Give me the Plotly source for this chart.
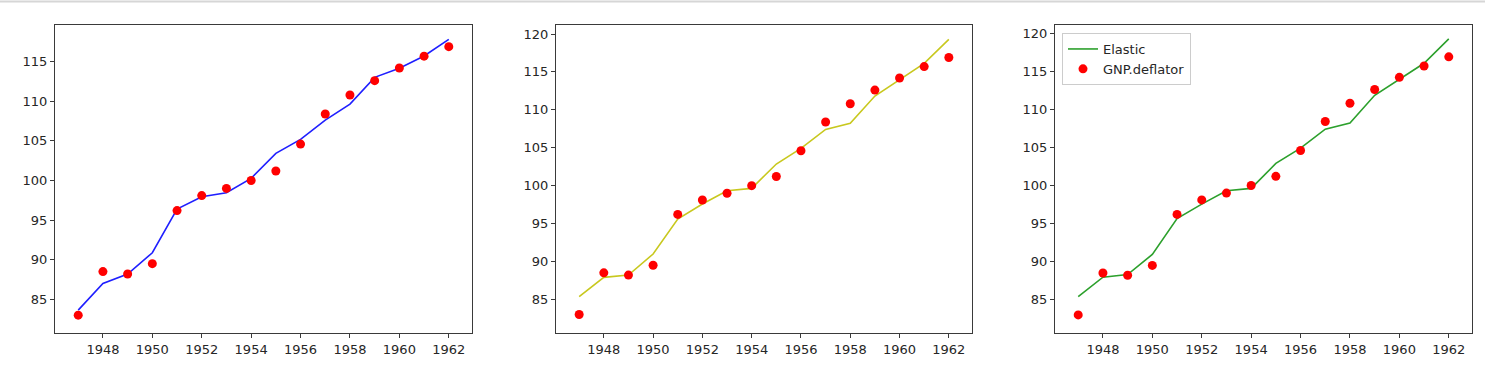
import plotly.graph_objects as go

years = list(range(1947, 1963))
gnp_deflator = [83.0, 88.5, 88.2, 89.5, 96.2, 98.1, 99.0, 100.0, 101.2, 104.6, 108.4, 110.8, 112.6, 114.2, 115.7, 116.9]
fit_blue = [83.64, 87.0, 88.19, 90.88, 96.4, 97.95, 98.46, 100.27, 103.43, 105.19, 107.63, 109.65, 113.02, 114.16, 115.72, 117.82]
fit_yellow = [85.35, 87.9, 88.2, 90.98, 95.59, 97.57, 99.33, 99.64, 102.85, 104.92, 107.42, 108.21, 111.82, 113.93, 116.13, 119.3]
fit_elastic = [85.4, 87.95, 88.3, 90.95, 95.65, 97.55, 99.3, 99.62, 102.9, 104.9, 107.4, 108.2, 111.85, 113.9, 116.05, 119.25]

xticks = list(range(1948, 1963, 2))
yticks1 = list(range(85, 116, 5))
yticks23 = list(range(85, 121, 5))

W, H = 1485, 365
fig = go.Figure()

panels = [
    (fit_blue, "#1f1fff", "Elastic", False, [80.75, 119.63], yticks1, (55, 472)),
    (fit_yellow, "#c8c81e", "Elastic", False, [80.56, 121.19], yticks23, (556, 972)),
    (fit_elastic, "#2ca02c", "Elastic", True, [80.62, 121.08], yticks23, (1055, 1472)),
]

spine = "#3a3a3a"
font = dict(family="DejaVu Sans", size=13, color="#262626")

for i, (fit, col, name, showleg, yr, yt, (px0, px1)) in enumerate(panels):
    n = "" if i == 0 else str(i + 1)
    xa = "x" + n
    ya = "y" + n
    fig.add_trace(go.Scatter(x=years, y=fit, mode="lines", line=dict(color=col, width=1.6),
                             name=name, showlegend=showleg, xaxis=xa, yaxis=ya))
    fig.add_trace(go.Scatter(x=years, y=gnp_deflator, mode="markers",
                             marker=dict(color="#ff0000", size=9, line=dict(width=0)),
                             name="GNP.deflator", showlegend=showleg, xaxis=xa, yaxis=ya))
    axcommon = dict(showline=True, mirror=True, linecolor=spine, linewidth=1, ticks="outside",
                    ticklen=4, tickcolor=spine, tickwidth=1, showgrid=False, zeroline=False,
                    tickfont=font)
    fig.layout["xaxis" + n] = dict(domain=[px0 / W, px1 / W], range=[1946.06, 1962.94],
                                   tickvals=xticks, ticktext=[str(t) for t in xticks],
                                   anchor=ya, **axcommon)
    fig.layout["yaxis" + n] = dict(domain=[(H - 333) / H, (H - 25) / H], range=yr,
                                   tickvals=yt, ticktext=[str(t) for t in yt],
                                   anchor=xa, **axcommon)

fig.add_shape(type="line", xref="paper", yref="paper", x0=0, x1=1, y0=1 - 1.5 / H, y1=1 - 1.5 / H,
              line=dict(color="#d6d6d6", width=2))

fig.update_layout(
    width=W, height=H, margin=dict(l=0, r=0, t=0, b=0),
    paper_bgcolor="white", plot_bgcolor="white",
    font=font,
    legend=dict(x=1062 / W, y=1 - 33 / H, xanchor="left", yanchor="top",
                bgcolor="rgba(255,255,255,0.8)", bordercolor="#cccccc", borderwidth=1,
                font=dict(family="DejaVu Sans", size=13, color="#262626"),
                tracegroupgap=0, itemwidth=30),
)

fig.write_html("out.html")
